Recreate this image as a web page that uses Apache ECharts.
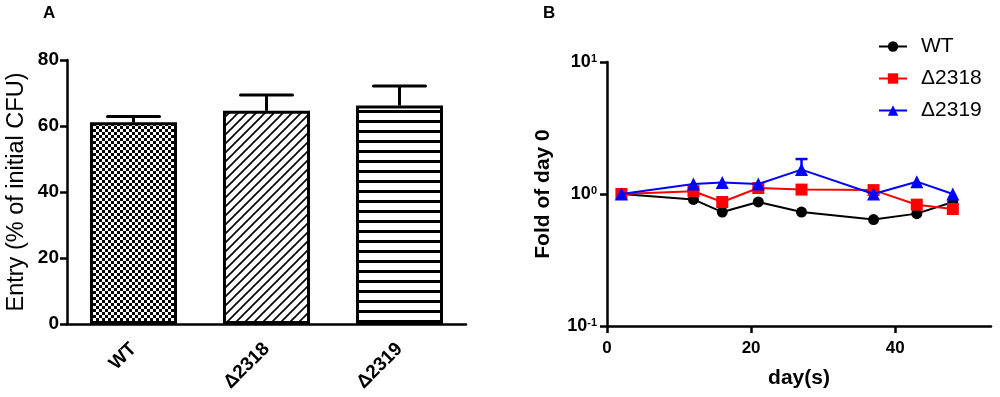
<!DOCTYPE html>
<html>
<head>
<meta charset="utf-8">
<script src="https://cdn.jsdelivr.net/npm/echarts@6/dist/echarts.min.js"></script>
<style>
html,body{margin:0;padding:0;background:#fff;}
#c{width:1000px;height:397px;}
</style>
</head>
<body>
<div id="c"></div>
<script>
// Panel A data
const categoriesA = ['WT', 'Δ2318', 'Δ2319'];
const entryMean = [61.1, 64.6, 66.2];
const entryUpper = [62.9, 69.4, 72.1];
const yTicksA = [0, 20, 40, 60, 80];

// Panel B data
const days = [2, 12, 16, 21, 27, 37, 43, 48];
const wtFold = [1.0, 0.91, 0.73, 0.87, 0.73, 0.64, 0.71, 0.87];
const d2318Fold = [1.0, 1.05, 0.87, 1.11, 1.08, 1.07, 0.83, 0.77];
const d2319Fold = [1.0, 1.19, 1.22, 1.19, 1.53, 1.0, 1.24, 1.0];
const d2319Upper = [null, null, null, null, 1.84, null, null, null];
const xTicksB = [0, 20, 40];
const seriesNamesB = ['WT', 'Δ2318', 'Δ2319'];

const FONT = 'Liberation Sans, Arial, sans-serif';

function makePattern(kind) {
  const c = document.createElement('canvas');
  const ctx = c.getContext('2d');
  if (kind === 'checker') {
    c.width = 6; c.height = 6;
    ctx.fillStyle = '#fff'; ctx.fillRect(0, 0, 6, 6);
    ctx.fillStyle = '#000';
    ctx.fillRect(0, 0, 3, 3); ctx.fillRect(3, 3, 3, 3);
  } else if (kind === 'diag') {
    c.width = 9; c.height = 9;
    ctx.fillStyle = '#fff'; ctx.fillRect(0, 0, 9, 9);
    ctx.strokeStyle = '#000'; ctx.lineWidth = 1.6;
    ctx.beginPath();
    ctx.moveTo(-1, 10); ctx.lineTo(10, -1);
    ctx.moveTo(-5, 5); ctx.lineTo(5, -5);
    ctx.moveTo(4, 14); ctx.lineTo(14, 4);
    ctx.stroke();
  } else {
    c.width = 10; c.height = 10;
    ctx.fillStyle = '#fff'; ctx.fillRect(0, 0, 10, 10);
    ctx.fillStyle = '#000'; ctx.fillRect(0, 0, 10, 3);
  }
  return { image: c, repeat: 'repeat' };
}
const patterns = [makePattern('checker'), makePattern('diag'), makePattern('stripe')];

const chart = echarts.init(document.getElementById('c'), null, { renderer: 'canvas' });

const axisLineStyle = { color: '#000', width: 2.5 };

const option = {
  animation: false,
  backgroundColor: '#fff',
  textStyle: { fontFamily: FONT, color: '#000' },
  title: [
    { text: 'A', left: 38, top: 0, textStyle: { fontFamily: FONT, fontSize: 17, fontWeight: 'bold', color: '#000' } },
    { text: 'B', left: 538, top: 0, textStyle: { fontFamily: FONT, fontSize: 17, fontWeight: 'bold', color: '#000' } }
  ],
  legend: {
    data: seriesNamesB,
    orient: 'vertical',
    left: 873,
    top: 31,
    itemWidth: 28,
    itemHeight: 13,
    itemGap: 11,
    textStyle: { fontFamily: FONT, fontSize: 21, color: '#000', padding: [0, 0, 0, 9] }
  },
  grid: [
    { left: 67, right: 534, top: 60, bottom: 73 },
    { left: 607, right: 9, top: 62, bottom: 71 }
  ],
  xAxis: [
    {
      gridIndex: 0, type: 'category', data: categoriesA,
      axisLine: { lineStyle: axisLineStyle },
      axisTick: { alignWithLabel: true, length: 8, lineStyle: { color: '#000', width: 2.5 } },
      axisLabel: { rotate: 45, margin: 22, fontFamily: FONT, fontSize: 19, fontWeight: 'bold', color: '#000' }
    },
    {
      gridIndex: 1, type: 'value', min: 0, max: 53.3,
      name: 'day(s)', nameLocation: 'middle', nameGap: 42,
      nameTextStyle: { fontFamily: FONT, fontSize: 21, fontWeight: 'bold', color: '#000' },
      splitLine: { show: false },
      axisLine: { lineStyle: axisLineStyle },
      axisTick: { length: 7, customValues: xTicksB, lineStyle: { color: '#000', width: 2.5 } },
      axisLabel: { customValues: xTicksB, margin: 14, fontFamily: FONT, fontSize: 17, fontWeight: 'bold', color: '#000' }
    }
  ],
  yAxis: [
    {
      gridIndex: 0, type: 'value', min: 0, max: 80, interval: 20,
      name: 'Entry (% of initial CFU)', nameLocation: 'middle', nameGap: 38,
      nameTextStyle: { fontFamily: FONT, fontSize: 23.5, color: '#000' },
      splitLine: { show: false },
      axisLine: { show: true, lineStyle: axisLineStyle },
      axisTick: { show: true, length: 7, lineStyle: { color: '#000', width: 2.5 } },
      axisLabel: { margin: 8, fontFamily: FONT, fontSize: 19, fontWeight: 'bold', color: '#000',
        formatter: v => (yTicksA.indexOf(v) >= 0 ? String(v) : '') }
    },
    {
      gridIndex: 1, type: 'log', logBase: 10, min: 0.1, max: 10,
      name: 'Fold of day 0', nameLocation: 'middle', nameGap: 53,
      nameTextStyle: { fontFamily: FONT, fontSize: 21, fontWeight: 'bold', color: '#000' },
      splitLine: { show: false },
      minorTick: { show: false },
      axisLine: { show: true, lineStyle: axisLineStyle },
      axisTick: { show: true, length: 7, lineStyle: { color: '#000', width: 2.5 } },
      axisLabel: {
        margin: 10,
        formatter: v => '{b|10}{s|' + Math.round(Math.log10(v)) + '}',
        rich: {
          b: { fontFamily: FONT, fontSize: 18, fontWeight: 'bold', color: '#000' },
          s: { fontFamily: FONT, fontSize: 11, fontWeight: 'bold', color: '#000', verticalAlign: 'top' }
        }
      }
    }
  ],
  series: [
    {
      name: 'Entry', type: 'bar', xAxisIndex: 0, yAxisIndex: 0,
      barWidth: 87,
      data: entryMean.map((v, i) => ({ value: v, itemStyle: { color: patterns[i] } })),
      itemStyle: { borderColor: '#000', borderWidth: 3 },
      z: 2
    },
    {
      name: 'EntryErr', type: 'custom', xAxisIndex: 0, yAxisIndex: 0, z: 3,
      data: entryMean.map((v, i) => [i, v, entryUpper[i]]),
      renderItem: (params, api) => {
        const base = api.coord([api.value(0), api.value(1)]);
        const top = api.coord([api.value(0), api.value(2)]);
        return { type: 'group', children: [
          { type: 'line', shape: { x1: base[0], y1: base[1], x2: top[0], y2: top[1] }, style: { stroke: '#000', lineWidth: 3 } },
          { type: 'line', shape: { x1: top[0] - 26, y1: top[1], x2: top[0] + 26, y2: top[1] }, style: { stroke: '#000', lineWidth: 3, lineCap: 'round' } }
        ] };
      }
    },
    {
      name: 'WT', type: 'line', xAxisIndex: 1, yAxisIndex: 1,
      data: days.map((d, i) => [d, wtFold[i]]),
      symbol: 'circle', symbolSize: 11,
      lineStyle: { color: '#000', width: 2 }, itemStyle: { color: '#000' }, z: 3
    },
    {
      name: 'Δ2318', type: 'line', xAxisIndex: 1, yAxisIndex: 1,
      data: days.map((d, i) => [d, d2318Fold[i]]),
      symbol: 'rect', symbolSize: 12,
      lineStyle: { color: '#ff0000', width: 2 }, itemStyle: { color: '#ff0000' }, z: 4
    },
    {
      name: 'Δ2319', type: 'line', xAxisIndex: 1, yAxisIndex: 1,
      data: days.map((d, i) => [d, d2319Fold[i]]),
      symbol: 'triangle', symbolSize: 13,
      lineStyle: { color: '#0000ff', width: 2 }, itemStyle: { color: '#0000ff' }, z: 5
    },
    {
      name: 'Δ2319Err', type: 'custom', xAxisIndex: 1, yAxisIndex: 1, z: 5,
      data: days.map((d, i) => [d, d2319Fold[i], d2319Upper[i]]).filter(r => r[2] != null),
      renderItem: (params, api) => {
        const base = api.coord([api.value(0), api.value(1)]);
        const top = api.coord([api.value(0), api.value(2)]);
        return { type: 'group', children: [
          { type: 'line', shape: { x1: base[0], y1: base[1], x2: top[0], y2: top[1] }, style: { stroke: '#0000ff', lineWidth: 2.5 } },
          { type: 'line', shape: { x1: top[0] - 6, y1: top[1], x2: top[0] + 6, y2: top[1] }, style: { stroke: '#0000ff', lineWidth: 2.5 } }
        ] };
      }
    }
  ]
};
chart.setOption(option);
</script>
</body>
</html>
